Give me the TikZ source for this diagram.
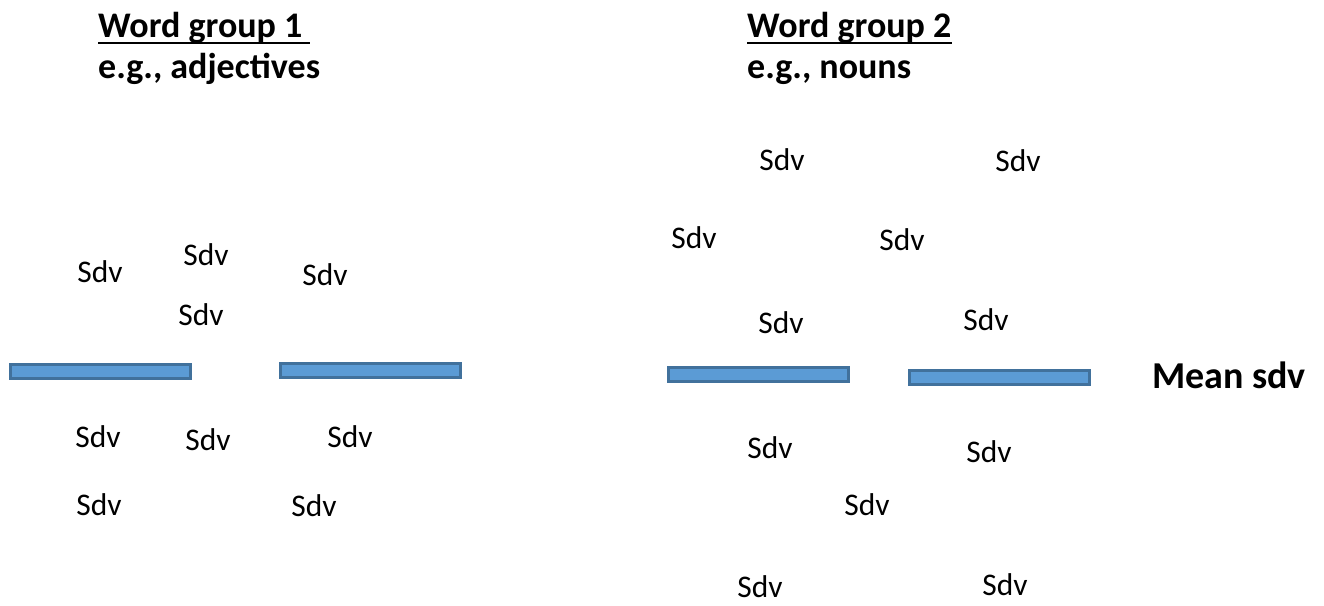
\documentclass[tikz,border=0pt]{standalone}
\usepackage{fontspec}
\setmainfont{Carlito}
\definecolor{barfill}{HTML}{5B9BD5}
\definecolor{barline}{HTML}{41719C}
\tikzset{
  sdv/.style={inner sep=0pt, font=\fontsize{31.5}{36}\selectfont},
  heading/.style={inner sep=0pt, anchor=base west, font=\fontsize{36}{42}\selectfont\bfseries},
  meanbar/.style={draw=barline, fill=barfill, line width=3pt},
  uline/.style={line width=2.8pt}
}
\begin{document}
\begin{tikzpicture}[x=1pt,y=-1pt]
\useasboundingbox (0,0) rectangle (1324,605);

% headings
\node[heading] (h1) at (98,37) {Word group 1};
\node[heading] (s1) at (98,78) {e.g., adjectives};
\node[heading] (h2) at (747,37) {Word group 2};
\node[heading] (s2) at (747,78) {e.g., nouns};
\draw[uline] ([yshift=-6pt]h1.base west) -- ++(212,0) coordinate (u1);
\draw[uline] ([yshift=-6pt]h2.base west) -- ([yshift=-6pt]h2.base east);

% mean bars
\draw[meanbar] (10,364) rectangle (190,378);
\draw[meanbar] (280,363) rectangle (460,377);
\draw[meanbar] (668,367) rectangle (848,381);
\draw[meanbar] (909,370) rectangle (1089,384);

\node[inner sep=0pt, anchor=west, font=\fontsize{38}{44}\selectfont\bfseries] (mean) at (1152,375) {Mean sdv};

% group 1 values
\node[sdv] (a1) at (100,272) {Sdv};
\node[sdv] (a2) at (206,255) {Sdv};
\node[sdv] (a3) at (201,315) {Sdv};
\node[sdv] (a4) at (325,275) {Sdv};
\node[sdv] (a5) at (98,437) {Sdv};
\node[sdv] (a6) at (208,440) {Sdv};
\node[sdv] (a7) at (350,437) {Sdv};
\node[sdv] (a8) at (99,505) {Sdv};
\node[sdv] (a9) at (314,506) {Sdv};

% group 2 values
\node[sdv] (b1) at (782,160) {Sdv};
\node[sdv] (b2) at (1018,161) {Sdv};
\node[sdv] (b3) at (694,238) {Sdv};
\node[sdv] (b4) at (902,240) {Sdv};
\node[sdv] (b5) at (781,323) {Sdv};
\node[sdv] (b6) at (986,320) {Sdv};
\node[sdv] (b7) at (770,448) {Sdv};
\node[sdv] (b8) at (989,452) {Sdv};
\node[sdv] (b9) at (867,505) {Sdv};
\node[sdv] (b10) at (760,587) {Sdv};
\node[sdv] (b11) at (1005,585) {Sdv};
\end{tikzpicture}
\end{document}
